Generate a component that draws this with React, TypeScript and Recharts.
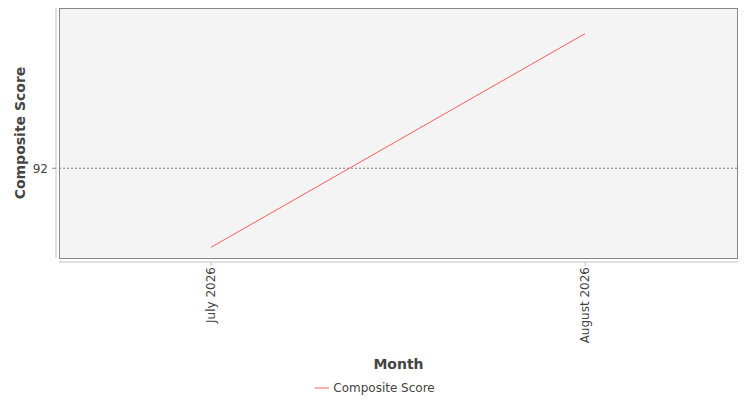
import React from "react";
import {
  LineChart,
  Line,
  XAxis,
  YAxis,
  ReferenceArea,
  ReferenceLine,
  Legend,
  Label,
} from "recharts";

const months = ["July 2026", "August 2026"];
const compositeScore = [91.63, 92.63];
const yTicks = [92];
const yDomain = [91.58, 92.75];

const data = months.map((month, i) => ({ month, score: compositeScore[i] }));

const FONT = "'DejaVu Sans', sans-serif";
const TEXT = "#444444";

const MonthTick = (props: any) => {
  const { x, y, payload } = props;
  return (
    <text
      x={x}
      y={y}
      transform={`rotate(-90, ${x}, ${y})`}
      textAnchor="end"
      dy="0.35em"
      fill={TEXT}
      fontSize={12}
      fontFamily={FONT}
    >
      {payload.value}
    </text>
  );
};

const LegendContent = () => (
  <div
    style={{
      display: "flex",
      justifyContent: "center",
      alignItems: "center",
      fontFamily: FONT,
      fontSize: 12,
      color: TEXT,
    }}
  >
    <svg width={18} height={10}>
      <line x1={0} y1={5} x2={14} y2={5} stroke="#ff5b5b" strokeWidth={1} />
    </svg>
    <span>Composite Score</span>
  </div>
);

export default function App() {
  return (
    <div style={{ position: "absolute", left: 0, top: 0 }}>
      <LineChart
        width={750}
        height={400}
        data={data}
        margin={{ top: 8, right: 12, bottom: 0, left: 0 }}
      >
        <ReferenceArea
          x1={months[0]}
          x2={months[1]}
          y1={yDomain[0]}
          y2={yDomain[1]}
          ifOverflow="visible"
          fill="#f4f4f4"
          fillOpacity={1}
          stroke="#888888"
          strokeWidth={1}
          shape={(p: any) => (
            <rect
              x={59.5}
              y={p.y + 0.5}
              width={678}
              height={p.height}
              fill="#f4f4f4"
              stroke="#888888"
            />
          )}
        />
        <ReferenceLine
          y={yTicks[0]}
          stroke="#808080"
          strokeDasharray="2 2"
        />
        <XAxis
          dataKey="month"
          padding={{ left: 152, right: 153 }}
          height={142}
          tick={<MonthTick />}
          tickSize={4}
          tickMargin={5}
          axisLine={{ stroke: "#c0c0c0", transform: "translate(0,4)" }}
          tickLine={{ stroke: "#c0c0c0", transform: "translate(0,4)" }}
          interval={0}
        >
          <Label
            content={() => (
              <text
                x={398.5}
                y={369}
                textAnchor="middle"
                fill={TEXT}
                fontSize={14}
                fontWeight="bold"
                fontFamily={FONT}
              >
                Month
              </text>
            )}
          />
        </XAxis>
        <YAxis
          width={59}
          domain={yDomain}
          ticks={yTicks}
          tickSize={4}
          tickMargin={7}
          tick={{ fill: TEXT, fontSize: 12, fontFamily: FONT }}
          axisLine={{ stroke: "#c0c0c0", transform: "translate(-3,0)" }}
          tickLine={{ stroke: "#888888", transform: "translate(-3,0)" }}
        >
          <Label
            content={() => (
              <text
                x={25}
                y={133}
                transform="rotate(-90, 25, 133)"
                textAnchor="middle"
                fill={TEXT}
                fontSize={14}
                fontWeight="bold"
                fontFamily={FONT}
              >
                Composite Score
              </text>
            )}
          />
        </YAxis>
        <Legend
          layout="horizontal"
          verticalAlign="middle"
          align="center"
          content={<LegendContent />}
          wrapperStyle={{ top: 381, left: 0, width: 750 }}
        />
        <Line
          type="linear"
          dataKey="score"
          stroke="#ff5b5b"
          strokeWidth={1}
          dot={false}
          isAnimationActive={false}
        />
      </LineChart>
    </div>
  );
}
